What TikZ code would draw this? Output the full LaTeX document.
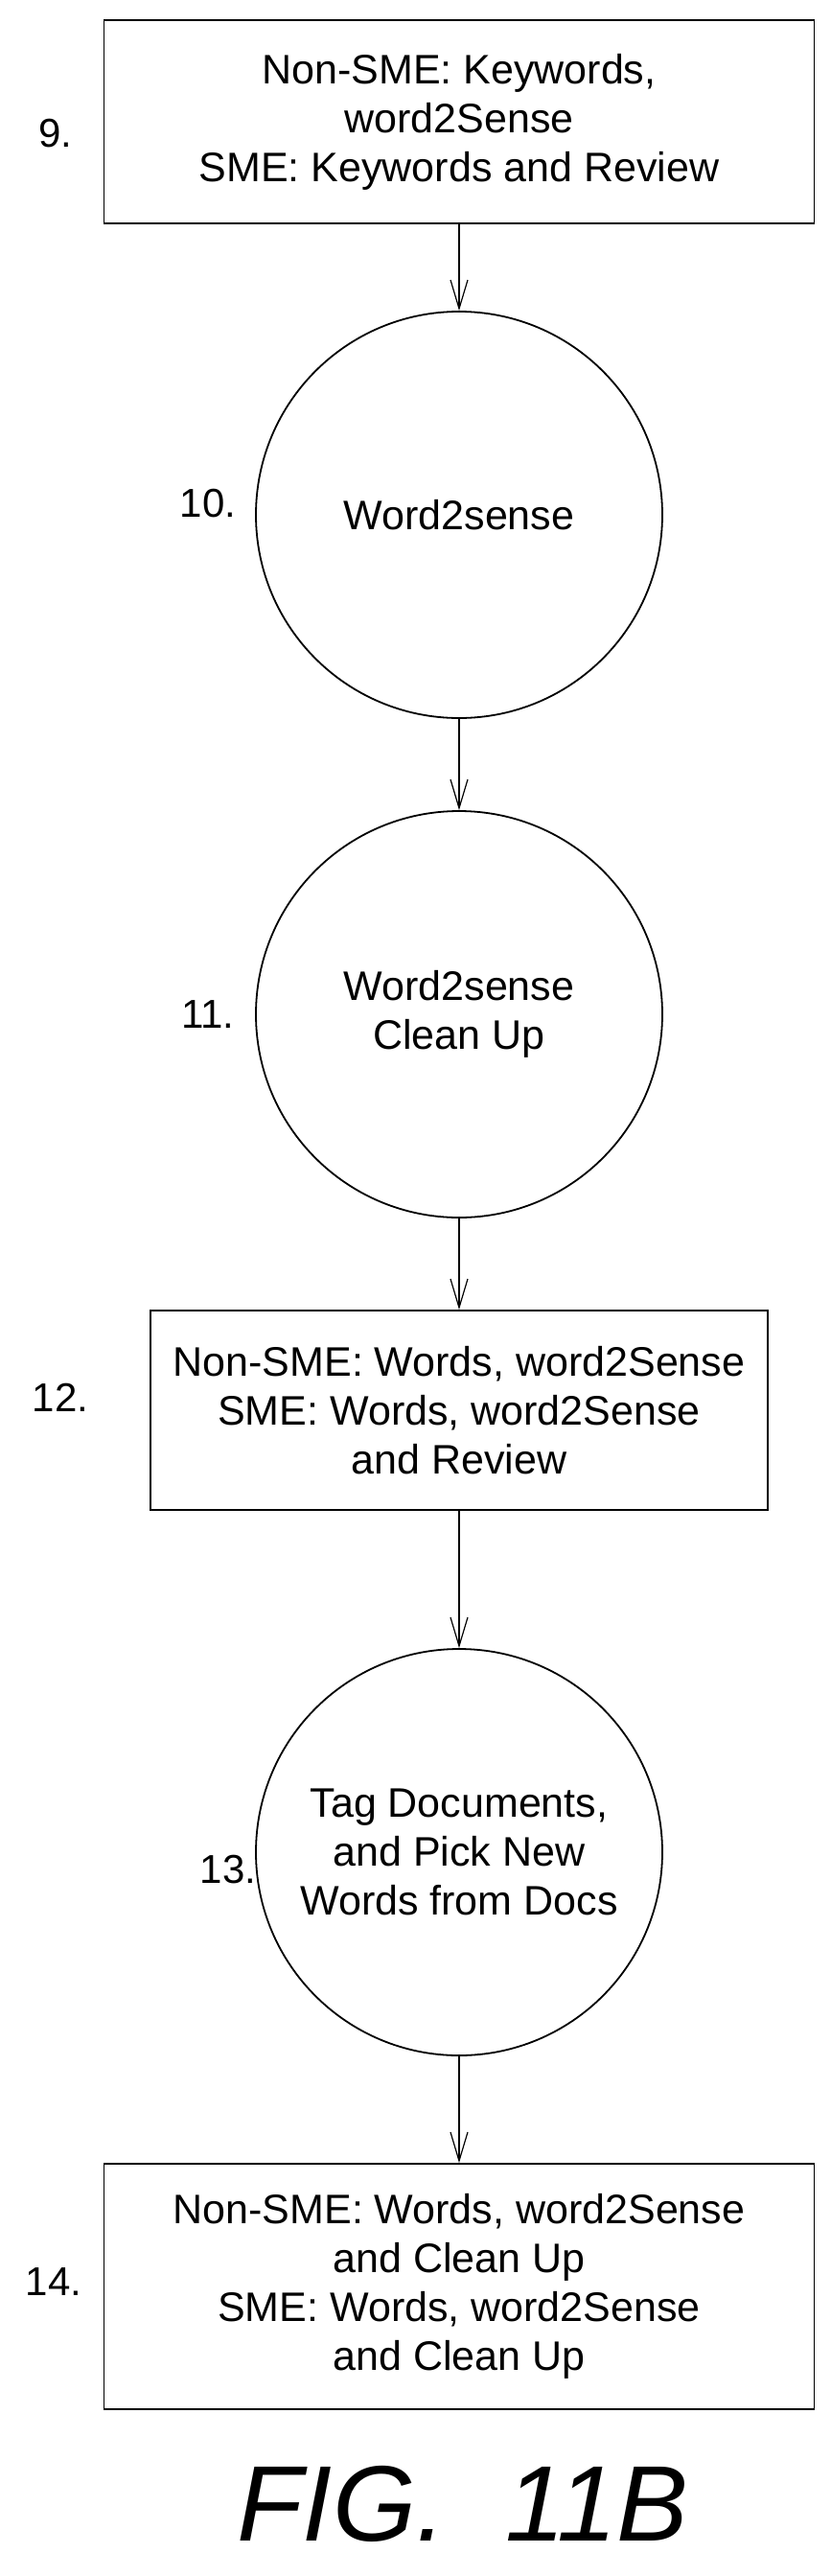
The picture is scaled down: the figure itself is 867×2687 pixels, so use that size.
\documentclass[tikz,border=0pt]{standalone}
\usepackage{fontspec}
\setmainfont{Liberation Sans}
\usetikzlibrary{arrows.meta}

\tikzset{
  stage/.style={draw, line width=1.8pt, align=center, font=\fontsize{43}{51}\selectfont},
  stagebox/.style={stage, rectangle, inner sep=0pt},
  stagecirc/.style={stage, circle, minimum size=424pt, inner sep=0pt},
  stagelabel/.style={font=\fontsize{42}{48}\selectfont},
  flow/.style={line width=1.2pt, -{Straight Barb[length=30pt,width=18pt,line width=1.2pt]}}
}

\begin{document}
\begin{tikzpicture}[x=1pt,y=-1pt]
\useasboundingbox (0,0) rectangle (867,2687);

% stages
\node[stagebox, minimum width=741pt, minimum height=212pt] (s9) at (479,127)
  {Non-SME: Keywords,\\word2Sense\\SME: Keywords and Review};
\node[stagecirc] (s10) at (479,537) {Word2sense};
\node[stagecirc] (s11) at (479,1058) {Word2sense\\Clean Up};
\node[stagebox, minimum width=644pt, minimum height=208pt] (s12) at (479,1471)
  {Non-SME: Words, word2Sense\\SME: Words, word2Sense\\and Review};
\node[stagecirc] (s13) at (479,1932) {Tag Documents,\\and Pick New\\Words from Docs};
\node[stagebox, minimum width=741pt, minimum height=256pt] (s14) at (479,2385)
  {Non-SME: Words, word2Sense\\and Clean Up\\SME: Words, word2Sense\\and Clean Up};

% stage numbers
\node[stagelabel] (n9) at (58,139) {9.};
\node[stagelabel] (n10) at (217,525) {10.};
\node[stagelabel] (n11) at (217,1058) {11.};
\node[stagelabel] (n12) at (63,1458) {12.};
\node[stagelabel] (n13) at (238,1950) {13.};
\node[stagelabel] (n14) at (56,2380) {14.};

% connectors
\draw[flow] (s9) -- (s10);
\draw[flow] (s10) -- (s11);
\draw[flow] (s11) -- (s12);
\draw[flow] (s12) -- (s13);
\draw[flow] (s13) -- (s14);

\node[font=\fontsize{112}{120}\itshape] (fig) at (483,2612) {FIG.\ \ 11B};
\end{tikzpicture}
\end{document}
